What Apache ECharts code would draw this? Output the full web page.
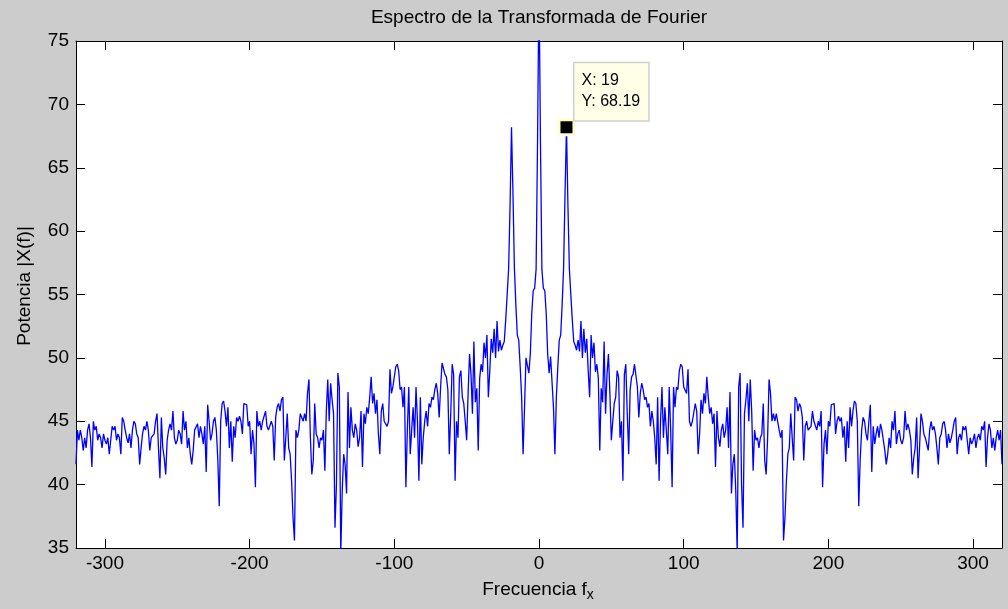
<!DOCTYPE html>
<html>
<head>
<meta charset="utf-8">
<script src="https://cdn.jsdelivr.net/npm/echarts@6/dist/echarts.min.js"></script>
<style>
  html, body { margin: 0; padding: 0; background: #cccccc; }
  #chart { width: 1008px; height: 609px; }
</style>
</head>
<body>
<div id="chart"></div>
<script>
// Spectrum magnitude |X(f)| for f = 0, 1, 2, ... 320.
// The spectrum of a real signal is symmetric, so f < 0 mirrors these values.
const powerPos = [
  80, 67.1, 57.0, 55.5, 55.3, 53.5, 50.3, 48.8, 50.1, 50.0,
  46.1, 42.4, 46.9, 49.3, 51.4, 51.8, 54.2, 57.1, 63.0, 68.19,
  62.0, 57.0, 55.0, 53.0, 51.3, 51.0, 50.6, 51.4, 50.5, 52.9,
  50.0, 52.3, 50.4, 51.5, 49.0, 46.9, 51.8, 50.0, 51.2, 48.9,
  49.5, 48.4, 42.7, 47.6, 46.5, 51.3, 45.6, 48.7, 50.3, 47.2,
  43.5, 45.0, 46.4, 46.9, 49.0, 48.5, 43.7, 45.0, 40.3, 48.7,
  49.5, 45.6, 42.4, 47.5, 48.5, 48.7, 49.5, 49.6, 47.7, 45.3,
  47.2, 48.0, 47.5, 46.7, 46.9, 46.1, 46.4, 44.6, 45.8, 45.0,
  43.7, 41.6, 46.9, 40.3, 45.0, 47.7, 43.7, 46.1, 44.3, 42.4,
  47.7, 44.3, 39.8, 47.7, 46.1, 47.7, 47.5, 49.0, 49.5, 49.3,
  47.7, 47.7, 47.2, 49.1, 45.0, 44.6, 45.0, 45.0, 46.4, 45.8,
  42.4, 44.0, 46.7, 45.6, 47.2, 46.4, 48.5, 46.9, 45.6, 46.1,
  44.8, 45.6, 41.4, 45.8, 43.7, 43.0, 44.3, 44.8, 43.7, 44.3,
  46.1, 42.9, 47.3, 39.3, 41.6, 42.4, 39.5, 34.6, 47.7, 48.8,
  40.0, 36.6, 45.6, 46.7, 48.0, 45.0, 48.3, 45.8, 41.1, 44.3,
  43.5, 43.7, 42.9, 43.7, 44.0, 46.4, 41.9, 40.8, 43.7, 48.3,
  47.2, 45.0, 45.6, 45.0, 45.6, 45.6, 44.3, 43.7, 44.3, 35.6,
  37.4, 40.3, 42.4, 42.9, 45.6, 43.7, 41.9, 46.9, 46.7, 45.8,
  46.4, 46.1, 45.3, 41.9, 44.6, 45.0, 44.3, 44.3, 44.6, 45.8,
  45.0, 45.0, 44.3, 45.0, 44.6, 45.8, 39.8, 43.2, 44.3, 42.4,
  45.0, 44.6, 46.3, 46.4, 46.4, 44.0, 45.0, 45.4, 45.0, 45.3,
  43.7, 44.6, 41.8, 45.0, 42.9, 46.1, 44.6, 45.8, 46.6, 46.4,
  45.0, 38.3, 42.0, 44.3, 45.3, 45.0, 44.0, 43.5, 45.0, 46.3,
  41.0, 44.6, 43.2, 44.0, 44.6, 43.7, 44.8, 44.3, 44.3, 42.7,
  41.6, 42.4, 43.7, 42.9, 45.0, 44.3, 45.8, 43.2, 44.0, 44.3,
  43.5, 43.2, 43.7, 45.8, 44.3, 44.8, 44.3, 43.5, 40.8, 42.1,
  42.9, 45.3, 40.5, 42.9, 45.6, 45.0, 44.0, 43.7, 43.7, 42.7,
  44.3, 45.0, 44.3, 44.6, 44.0, 42.9, 41.6, 43.7, 44.0, 44.8,
  45.0, 44.3, 42.9, 44.0, 43.3, 43.7, 44.3, 45.0, 45.3, 42.4,
  43.7, 44.0, 43.5, 44.6, 44.3, 44.6, 43.5, 42.4, 43.7, 43.2,
  43.5, 44.0, 42.9, 43.7, 44.0, 43.5, 44.6, 44.3, 45.0, 41.4,
  43.7, 44.8, 44.3, 42.9, 43.7, 42.7, 43.7, 44.3, 43.5, 44.3,
  41.6
];
const freqLimits = [-320, 320];
const xTickValues = [-300, -200, -100, 0, 100, 200, 300];
const yLimits = [35, 75];
const yStep = 5;
const tipPoint = [19, 68.19];
const titleText = 'Espectro de la Transformada de Fourier';
const xLabelMain = 'Frecuencia f';
const xLabelSub = 'x';
const yLabelText = 'Potencia |X(f)|';

const lineData = [];
for (let f = freqLimits[0]; f <= freqLimits[1]; f++) {
  lineData.push([f, powerPos[Math.abs(f)]]);
}

const FONT = '"Liberation Sans", Arial, Helvetica, sans-serif';
const chart = echarts.init(document.getElementById('chart'), null, { renderer: 'canvas' });

const tickStyle = { show: true, inside: true, length: 9, lineStyle: { color: '#000', width: 1 } };
const lineAxis = { show: true, onZero: false, lineStyle: { color: '#000', width: 1 } };

chart.setOption({
  animation: false,
  backgroundColor: '#cccccc',
  grid: {
    left: 76, right: 6, top: 41, bottom: 61,
    show: true, backgroundColor: '#ffffff', borderWidth: 0,
    containLabel: false, outerBoundsMode: 'none'
  },
  xAxis: [
    {
      type: 'value', position: 'bottom', min: freqLimits[0], max: freqLimits[1],
      axisLine: lineAxis,
      axisTick: Object.assign({}, tickStyle, { customValues: xTickValues }),
      axisLabel: { customValues: xTickValues, color: '#000', fontSize: 19, fontFamily: FONT, margin: 6 },
      splitLine: { show: false }
    },
    {
      type: 'value', position: 'top', min: freqLimits[0], max: freqLimits[1],
      axisLine: lineAxis,
      axisTick: Object.assign({}, tickStyle, { customValues: xTickValues }),
      axisLabel: { show: false },
      splitLine: { show: false }
    }
  ],
  yAxis: [
    {
      type: 'value', position: 'left', min: yLimits[0], max: yLimits[1], interval: yStep,
      axisLine: lineAxis, axisTick: tickStyle,
      axisLabel: { color: '#000', fontSize: 19, fontFamily: FONT, margin: 7 },
      splitLine: { show: false }
    },
    {
      type: 'value', position: 'right', min: yLimits[0], max: yLimits[1], interval: yStep,
      axisLine: lineAxis, axisTick: tickStyle,
      axisLabel: { show: false },
      splitLine: { show: false }
    }
  ],
  series: [
    {
      type: 'line', xAxisIndex: 0, yAxisIndex: 0,
      data: lineData, showSymbol: false, symbol: 'none',
      lineStyle: { color: '#0000ff', width: 1.3 },
      clip: true, silent: true, z: 2
    },
    {
      type: 'scatter', xAxisIndex: 0, yAxisIndex: 0,
      data: [tipPoint], symbol: 'rect', symbolSize: 15,
      itemStyle: { color: '#000000', borderColor: '#ffffd2', borderWidth: 3, opacity: 1 },
      silent: true, z: 5, clip: false,
      label: {
        show: true,
        position: [17, -55],
        formatter: 'X: ' + tipPoint[0] + '\nY: ' + tipPoint[1],
        color: '#000', fontSize: 16, fontFamily: FONT, lineHeight: 21,
        backgroundColor: '#ffffe8', borderColor: '#cfcfcf', borderWidth: 1.5,
        padding: [7, 8, 8, 7]
      }
    }
  ],
  graphic: [
    {
      type: 'text', x: 539, y: 18, silent: true,
      style: { text: titleText, fill: '#000', font: '19px ' + FONT, textAlign: 'center', textVerticalAlign: 'middle' }
    },
    {
      type: 'text', x: 538, y: 580, silent: true,
      style: {
        text: '{a|' + xLabelMain + '}{b|' + xLabelSub + '}',
        textAlign: 'center', textVerticalAlign: 'top',
        rich: {
          a: { fontSize: 19, fontFamily: FONT, fill: '#000', lineHeight: 22, verticalAlign: 'top' },
          b: { fontSize: 14, fontFamily: FONT, fill: '#000', lineHeight: 14, padding: [14, 0, 0, 0], verticalAlign: 'bottom' }
        }
      }
    },
    {
      type: 'text', x: 25, y: 286, rotation: Math.PI / 2, silent: true,
      style: { text: yLabelText, fill: '#000', font: '19px ' + FONT, textAlign: 'center', textVerticalAlign: 'middle' }
    }
  ]
});
</script>
</body>
</html>
